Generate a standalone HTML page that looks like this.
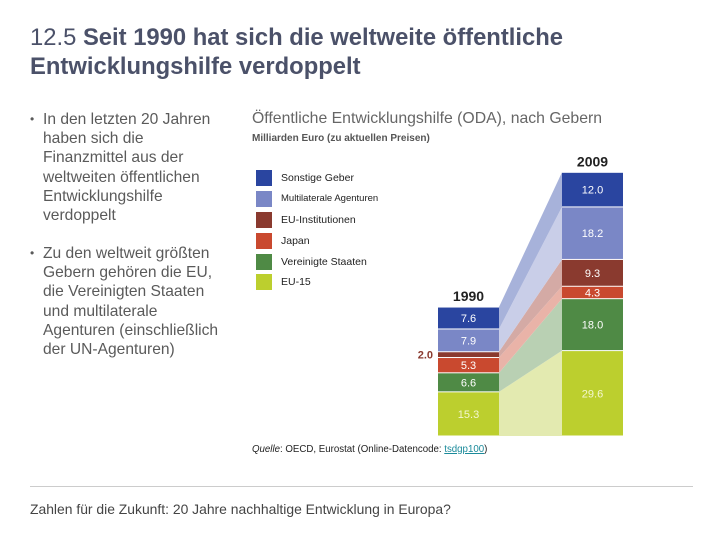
<!DOCTYPE html>
<html><head><meta charset="utf-8"><style>
body{margin:0;width:720px;height:540px;background:#fff;font-family:"Liberation Sans",sans-serif;position:relative;overflow:hidden}
.a{position:absolute}
#title{left:30px;top:23px;font-size:23.8px;line-height:29px;color:#4b5169;white-space:nowrap}
.b{position:absolute;left:30px;font-size:15.6px;line-height:19.2px;color:#5a5a5a;width:220px}
.b span.d{position:absolute;left:0;top:0;font-size:12px}
.b div{margin-left:13px;white-space:nowrap}
.leg{position:absolute;left:256px;width:16px;height:16px}
.lt{position:absolute;left:281px;font-size:10.5px;color:#222}
</style></head><body>
<div id="title" class="a">12.5 <b>Seit 1990 hat sich die weltweite öffentliche<br>Entwicklungshilfe verdoppelt</b></div>
<div class="b" style="top:110px"><span class="d">•</span><div>In den letzten 20 Jahren<br>haben sich die<br>Finanzmittel aus der<br>weltweiten öffentlichen<br>Entwicklungshilfe<br>verdoppelt</div></div>
<div class="b" style="top:244px"><span class="d">•</span><div>Zu den weltweit größten<br>Gebern gehören die EU,<br>die Vereinigten Staaten<br>und multilaterale<br>Agenturen (einschließlich<br>der UN-Agenturen)</div></div>
<div class="a" style="left:252px;top:110px;font-size:15.8px;color:#666">Öffentliche Entwicklungshilfe (ODA), nach Gebern</div>
<div class="a" style="left:252px;top:133px;font-size:10px;font-weight:bold;color:#555">Milliarden Euro (zu aktuellen Preisen)</div>
<div id="legend"></div>
<svg id="chart" class="a" style="left:0;top:0" width="720" height="540"></svg>
<div class="a" style="left:252px;top:444px;font-size:9.7px;color:#222"><i>Quelle</i>: OECD, Eurostat (Online-Datencode: <span style="color:#1a8a9a;text-decoration:underline">tsdgp100</span>)</div>
<div class="a" style="left:30px;top:486px;width:663px;height:1px;background:#ccc"></div>
<div class="a" style="left:30px;top:501px;font-size:13.9px;color:#444">Zahlen für die Zukunft: 20 Jahre nachhaltige Entwicklung in Europa?</div>
<script>
const categories=["EU-15","Vereinigte Staaten","Japan","EU-Institutionen","Multilaterale Agenturen","Sonstige Geber"];
const values1990=[15.3,6.6,5.3,2.0,7.9,7.6];
const values2009=[29.6,18.0,4.3,9.3,18.2,12.0];
const years=["1990","2009"];
const colors=["#bccf2e","#4f8a45","#c9492f","#8a3a2f","#7a87c6","#2a45a0"];
const light=["#e3eab0","#b9d0b3","#e9b3a8","#d4aaa5","#c9cee8","#a7b2da"];
const svg=document.getElementById('chart');const NS="http://www.w3.org/2000/svg";
const base=436,k=2.885,x1=438,x2=562,w=61;
const y=v=>base-v*k;
function el(t,a){const e=document.createElementNS(NS,t);for(const q in a)e.setAttribute(q,a[q]);svg.appendChild(e);return e;}
let c1=0,c2=0;const s1=[],s2=[];
for(let i=0;i<categories.length;i++){s1.push([c1,c1+values1990[i]]);s2.push([c2,c2+values2009[i]]);c1+=values1990[i];c2+=values2009[i];}
for(let i=0;i<categories.length;i++){
 const p=el('polygon',{points:`${x1+w},${y(s1[i][0])} ${x2},${y(s2[i][0])} ${x2},${y(s2[i][1])} ${x1+w},${y(s1[i][1])}`,fill:light[i]});
 
 
}
function bars(x,s,vals,yr){
 for(let i=0;i<categories.length;i++){
  const r=el('rect',{x:x,y:y(s[i][1])+0.5,width:w,height:Math.max(vals[i]*k-1,1),fill:colors[i]});
  
  
  if(vals[i]>3){const t=el('text',{x:x+w/2,y:(y(s[i][0])+y(s[i][1]))/2+4,'text-anchor':'middle','font-size':11,fill:i==0?'#f4f7d0':'#fff','font-family':'Liberation Sans,sans-serif'});t.textContent=vals[i].toFixed(1);
  
  }
  else{const t=el('text',{x:x-5,y:(y(s[i][0])+y(s[i][1]))/2+4,'text-anchor':'end','font-size':11,fill:colors[i],'font-weight':'bold','font-family':'Liberation Sans,sans-serif'});t.textContent=vals[i].toFixed(1);
  
  }
 }
 const tot=s[s.length-1][1];
 const t=el('text',{x:x+w/2,y:y(tot)-6,'text-anchor':'middle','font-size':14,'font-weight':'bold',fill:'#222','font-family':'Liberation Sans,sans-serif'});t.textContent=yr;
 
 
}
bars(x1,s1,values1990,years[0]);bars(x2,s2,values2009,years[1]);
const lg=document.getElementById('legend');
const order=[5,4,3,2,1,0];const tops=[170,191,212,233,254,274];
order.forEach((ci,j)=>{
 const b=document.createElement('div');b.className='leg';b.style.top=tops[j]+'px';b.style.background=colors[ci];
 
 
 lg.appendChild(b);
 const t=document.createElement('div');t.className='lt';t.style.top=(tops[j]+2)+'px';t.textContent=categories[ci];
 if(ci==4)t.style.fontSize='9.5px';
 
 
 lg.appendChild(t);
});
</script>
</body></html>
